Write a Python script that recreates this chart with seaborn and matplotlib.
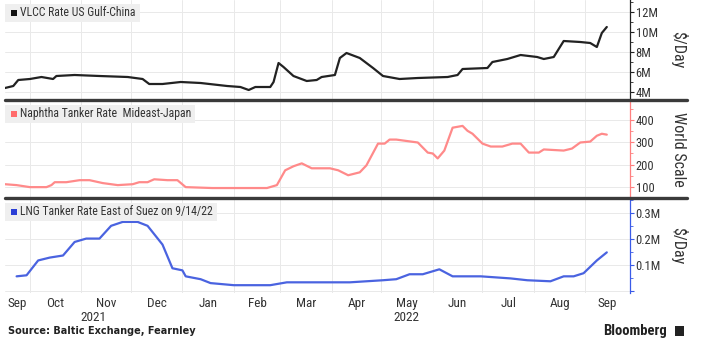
import matplotlib
matplotlib.use("Agg")
import matplotlib.pyplot as plt
import matplotlib.dates as mdates
from matplotlib import font_manager
from matplotlib.patches import Rectangle
from matplotlib.ticker import FuncFormatter, MultipleLocator
import seaborn as sns
import pandas as pd
import numpy as np

# ---------------- data ----------------
vlcc_dates = ["2021-09-16", "2021-09-21", "2021-09-24", "2021-10-01", "2021-10-08", "2021-10-15",
              "2021-10-17", "2021-10-28", "2021-11-12", "2021-11-29", "2021-12-08", "2021-12-12",
              "2021-12-20", "2021-12-31", "2022-01-12", "2022-01-28", "2022-02-05", "2022-02-10",
              "2022-02-14", "2022-02-23", "2022-02-25", "2022-02-28", "2022-03-03", "2022-03-09",
              "2022-03-17", "2022-03-23", "2022-03-26", "2022-04-03", "2022-04-06", "2022-04-10",
              "2022-04-18", "2022-04-26", "2022-05-02", "2022-05-12", "2022-05-23", "2022-06-10",
              "2022-06-16", "2022-06-19", "2022-07-04", "2022-07-07", "2022-07-16", "2022-07-24",
              "2022-08-03", "2022-08-07", "2022-08-13", "2022-08-19", "2022-08-29", "2022-09-04",
              "2022-09-08", "2022-09-11", "2022-09-14"]
vlcc_vals = [4.4, 4.6, 5.2, 5.3, 5.5, 5.3,
             5.6, 5.7, 5.6, 5.5, 5.3, 4.8,
             4.8, 5.0, 4.9, 4.6, 4.5, 4.2,
             4.5, 4.5, 5.0, 6.9, 6.5, 5.6,
             5.1, 5.2, 5.5, 5.7, 7.4, 7.9,
             7.4, 6.4, 5.6, 5.3, 5.4, 5.5,
             5.7, 6.3, 6.4, 7.0, 7.3, 7.7,
             7.5, 7.3, 7.5, 9.1, 9.0, 8.9,
             8.5, 9.9, 10.5]

naph_dates = ["2021-09-16", "2021-09-23", "2021-10-01", "2021-10-11", "2021-10-14", "2021-10-16",
              "2021-10-23", "2021-10-31", "2021-11-06", "2021-11-14", "2021-11-23", "2021-12-02",
              "2021-12-06", "2021-12-11", "2021-12-15", "2021-12-23", "2021-12-29", "2022-01-03",
              "2022-01-19", "2022-02-01", "2022-02-11", "2022-02-21", "2022-02-27", "2022-03-04",
              "2022-03-09", "2022-03-14", "2022-03-20", "2022-03-31", "2022-04-05", "2022-04-11",
              "2022-04-18", "2022-04-22", "2022-04-29", "2022-05-03", "2022-05-06", "2022-05-10",
              "2022-05-23", "2022-05-29", "2022-06-01", "2022-06-04", "2022-06-08", "2022-06-13",
              "2022-06-19", "2022-06-22", "2022-06-25", "2022-07-01", "2022-07-06", "2022-07-13",
              "2022-07-19", "2022-07-24", "2022-07-29", "2022-08-04", "2022-08-07", "2022-08-19",
              "2022-08-24", "2022-08-29", "2022-09-04", "2022-09-08", "2022-09-11", "2022-09-14"]
naph_vals = [113, 109, 100, 100, 109, 122,
             122, 131, 131, 118, 109, 113,
             122, 122, 135, 131, 131, 100,
             96, 96, 96, 96, 109, 175,
             193, 206, 184, 184, 175, 153,
             166, 197, 294, 294, 312, 312,
             299, 254, 250, 228, 263, 365,
             373, 351, 338, 294, 281, 281,
             294, 294, 254, 254, 268, 263,
             272, 299, 303, 329, 338, 334]

lng_dates = ["2021-09-23", "2021-09-29", "2021-10-06", "2021-10-13", "2021-10-21", "2021-10-28",
             "2021-11-04", "2021-11-12", "2021-11-19", "2021-11-26", "2021-12-05", "2021-12-11",
             "2021-12-20", "2021-12-26", "2022-01-01", "2022-01-03", "2022-01-12", "2022-01-18",
             "2022-02-01", "2022-02-23", "2022-03-05", "2022-03-17", "2022-04-02", "2022-04-12",
             "2022-04-22", "2022-05-02", "2022-05-10", "2022-05-18", "2022-05-26", "2022-06-05",
             "2022-06-13", "2022-06-30", "2022-07-18", "2022-07-28", "2022-08-11", "2022-08-19",
             "2022-08-25", "2022-08-31", "2022-09-08", "2022-09-14"]
lng_vals = [0.058, 0.062, 0.119, 0.130, 0.138, 0.190,
            0.203, 0.203, 0.252, 0.267, 0.267, 0.252,
            0.180, 0.089, 0.081, 0.058, 0.047, 0.032,
            0.024, 0.024, 0.035, 0.035, 0.035, 0.035,
            0.039, 0.043, 0.047, 0.066, 0.066, 0.085,
            0.058, 0.058, 0.050, 0.043, 0.039, 0.058,
            0.058, 0.070, 0.119, 0.150]

series_names = ["VLCC Rate US Gulf-China", "Naphtha Tanker Rate  Mideast-Japan",
                "LNG Tanker Rate East of Suez on 9/14/22"]
axis_labels = ["$/Day", "World Scale", "$/Day"]
month_labels = ["Sep", "Oct", "Nov", "Dec", "Jan", "Feb", "Mar", "Apr", "May", "Jun", "Jul", "Aug", "Sep"]
year_labels = ["2021", "2022"]
source_text = "Source: Baltic Exchange, Fearnley"

# ---------------- style ----------------
sns.set_theme(style="white")
names = {f.name for f in font_manager.fontManager.ttflist}
fam = "DejaVu Sans"
for cand in ["Roboto Condensed", "Liberation Sans Narrow", "Open Sans Condensed", "Lato", "Liberation Sans"]:
    if cand in names:
        fam = cand
        break
plt.rcParams["font.family"] = [fam, "DejaVu Sans"]

W, H = 701, 349
fig = plt.figure(figsize=(W / 100, H / 100), dpi=100)
fig.patch.set_facecolor("white")


def fx(px):
    return px / W


def fy(py):
    return 1 - py / H


xmin = pd.Timestamp("2021-09-16")
xmax = pd.Timestamp("2022-09-28")

colors = ["#222222", "#ff8a8a", "#4a63e0"]
sq_colors = ["#111111", "#ff6b6b", "#2b3fd6"]
spine_colors = ["#222222", "#ff7f7f", "#3a5be8"]
text_col = "#333333"
grid_col = "#e9e9e9"

panels = [(0, 99), (101, 197), (199, 293)]
left_px, right_px = 5, 630


def axrect(top, bot):
    return [fx(left_px), fy(bot), (right_px - left_px) / W, (bot - top) / H]


ylims = [(3.3, 13.2), (56, 484), (-0.006, 0.355)]
majors = [2, 100, 0.1]
minors = [1, 50, 0.05]
fmts = [FuncFormatter(lambda v, p: f"{v:g}M"), FuncFormatter(lambda v, p: f"{v:g}"),
        FuncFormatter(lambda v, p: f"{v:.1f}M" if v > 0.001 else "")]

datasets = [(vlcc_dates, vlcc_vals), (naph_dates, naph_vals), (lng_dates, lng_vals)]
axes = []
legend_texts = []
for i, ((t, b), (d, v)) in enumerate(zip(panels, datasets)):
    ax = fig.add_axes(axrect(t, b))
    axes.append(ax)
    df = pd.DataFrame({"date": pd.to_datetime(d), "value": v})
    sns.lineplot(data=df, x="date", y="value", ax=ax, color=colors[i], linewidth=1.6)
    ax.set_xlim(xmin, xmax)
    ax.set_ylim(*ylims[i])
    ax.yaxis.set_major_locator(MultipleLocator(majors[i]))
    ax.yaxis.set_minor_locator(MultipleLocator(minors[i]))
    ax.yaxis.set_major_formatter(fmts[i])
    ax.yaxis.tick_right()
    ax.yaxis.set_label_position("right")
    ax.tick_params(axis="y", which="major", direction="out", length=3, width=0.8,
                   color=spine_colors[i], labelcolor=text_col, labelsize=9, pad=1)
    ax.tick_params(axis="y", which="minor", direction="out", length=2, width=0.6,
                   color=spine_colors[i])
    for s in ["left", "top", "bottom"]:
        ax.spines[s].set_visible(False)
    ax.spines["right"].set_color(spine_colors[i])
    ax.spines["right"].set_linewidth(0.9)
    ax.set_xlabel("")
    ax.set_ylabel(axis_labels[i], rotation=270, fontsize=11.5, color=text_col, va="center")
    ax.yaxis.set_label_coords((679 - left_px) / (right_px - left_px), 0.5)
    ax.xaxis.set_major_locator(mdates.MonthLocator())
    ax.tick_params(axis="x", which="both", length=0, labelbottom=False)
    ax.grid(True, which="major", color=grid_col, linewidth=0.7)
    ax.set_facecolor("white")
    # legend-like label
    cy = t + 13
    txt = fig.text(fx(20), fy(cy), series_names[i], color=text_col, fontsize=8.5,
                   va="center", ha="left", zorder=6)
    legend_texts.append((txt, cy, i))

fig.canvas.draw()
renderer = fig.canvas.get_renderer()
for txt, cy, i in legend_texts:
    bb = txt.get_window_extent(renderer)
    x1 = bb.x1 + 4
    fig.add_artist(Rectangle((fx(5), fy(cy + 9)), (x1 - 5) / W, 18 / H, transform=fig.transFigure,
                             facecolor="#efefef", edgecolor="none", zorder=4))
    fig.add_artist(Rectangle((fx(11), fy(cy + 3)), 6 / W, 6 / H, transform=fig.transFigure,
                             facecolor=sq_colors[i], edgecolor="none", zorder=5))

# month labels on bottom axis
bax = axes[-1]
month_starts = pd.date_range("2021-09-01", "2022-09-01", freq="MS")
for ms, lab in zip(month_starts, month_labels):
    me = ms + pd.offsets.MonthBegin(1)
    a = max(ms, xmin)
    b = min(me, xmax)
    mid = a + (b - a) / 2
    bax.text(mid, -0.045, lab, transform=bax.get_xaxis_transform(), ha="center", va="top",
             fontsize=9.5, color=text_col)
yr_bounds = [(xmin, pd.Timestamp("2022-01-01")), (pd.Timestamp("2022-01-01"), xmax)]
for (a, b), lab in zip(yr_bounds, year_labels):
    mid = a + (b - a) / 2
    bax.text(mid, -0.19, lab, transform=bax.get_xaxis_transform(), ha="center", va="top",
             fontsize=9.5, color=text_col)

# separators
for ypx in [100, 198]:
    fig.add_artist(plt.Line2D([fx(left_px), fx(687)], [fy(ypx)] * 2, color="#3a3a3a",
                              linewidth=2.4, transform=fig.transFigure))

fig.text(fx(8), fy(331), source_text, fontsize=7, fontweight="bold", color="#222222",
         va="center", ha="left", family="DejaVu Sans")
fig.text(fx(667), fy(331), "Bloomberg", fontsize=10.5, fontweight="bold", color="#222222",
         va="center", ha="right")
fig.add_artist(Rectangle((fx(675), fy(336)), 9 / W, 10 / H, transform=fig.transFigure,
                         facecolor="#222222", edgecolor="none"))

fig.savefig("out.png", dpi=100, facecolor="white")
